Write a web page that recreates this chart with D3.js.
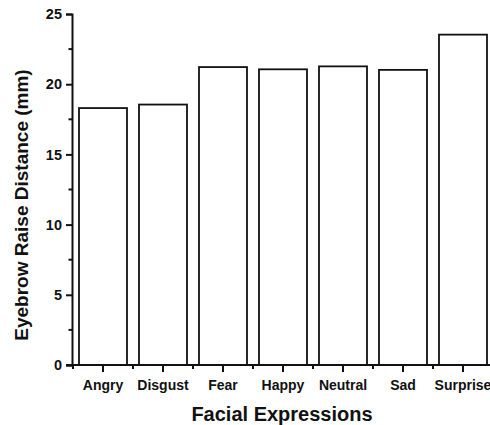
<!DOCTYPE html>
<html>
<head>
<script src="https://d3js.org/d3.v7.min.js"></script>
<style>
  body { margin: 0; background: #fff; }
  svg text { font-family: "Liberation Sans", Arial, sans-serif; font-weight: bold; fill: #111; }
</style>
</head>
<body>
<div id="chart"></div>
<script>
  var categories = ["Angry", "Disgust", "Fear", "Happy", "Neutral", "Sad", "Surprise"];
  var values = [18.3, 18.55, 21.22, 21.06, 21.27, 21.02, 23.53];
  var yTicks = [0, 5, 10, 15, 20, 25];
  var yMinor = [2.5, 7.5, 12.5, 17.5, 22.5];

  var w = 490, h = 425;
  var svg = d3.select("#chart").append("svg")
      .attr("width", w).attr("height", h);

  var x = d3.scaleBand().domain(categories).range([73, 493])
      .paddingInner(0.2).paddingOuter(0.1);
  var y = d3.scaleLinear().domain([0, 25]).range([365, 14]);

  // bars
  svg.append("g").selectAll("rect")
      .data(values)
      .enter().append("rect")
      .attr("x", function(d, i) { return x(categories[i]); })
      .attr("y", function(d) { return y(d); })
      .attr("width", x.bandwidth())
      .attr("height", function(d) { return y(0) - y(d); })
      .attr("fill", "#fff")
      .attr("stroke", "#111")
      .attr("stroke-width", 1.8);

  // y axis
  var yAxis = svg.append("g").attr("transform", "translate(72,0)")
      .call(d3.axisLeft(y).tickValues(yTicks).tickSize(6).tickPadding(4));
  yAxis.select(".domain").attr("stroke-width", 2).attr("stroke", "#111");
  yAxis.selectAll(".tick line").attr("stroke-width", 2).attr("stroke", "#111");
  yAxis.selectAll("text").attr("font-size", 14.5).style("font-family", null);
  yAxis.selectAll(".minor").data(yMinor).enter().append("line")
      .attr("class", "minor")
      .attr("x1", -3.5).attr("x2", 0)
      .attr("y1", function(d) { return y(d); })
      .attr("y2", function(d) { return y(d); })
      .attr("stroke", "#111").attr("stroke-width", 2);

  // x axis
  var xAxis = svg.append("g").attr("transform", "translate(0,365)")
      .call(d3.axisBottom(x).tickSize(7).tickPadding(8).tickSizeOuter(0));
  xAxis.select(".domain").attr("stroke-width", 2).attr("stroke", "#111")
      .attr("d", "M66,0H490");
  xAxis.selectAll(".tick line").attr("stroke-width", 2).attr("stroke", "#111");
  xAxis.selectAll("text").attr("font-size", 14).style("font-family", null);
  xAxis.selectAll(".minor").data(categories).enter().append("line")
      .attr("class", "minor")
      .attr("x1", function(d) { return x(d) - x.step() * x.paddingInner() / 2; })
      .attr("x2", function(d) { return x(d) - x.step() * x.paddingInner() / 2; })
      .attr("y1", 0).attr("y2", 4)
      .attr("stroke", "#111").attr("stroke-width", 2);

  // titles
  svg.append("text")
      .attr("transform", "translate(28,205) rotate(-90)")
      .attr("text-anchor", "middle")
      .attr("font-size", 19)
      .text("Eyebrow Raise Distance (mm)");
  svg.append("text")
      .attr("x", 282).attr("y", 421)
      .attr("text-anchor", "middle")
      .attr("font-size", 20)
      .text("Facial Expressions");
</script>
</body>
</html>
